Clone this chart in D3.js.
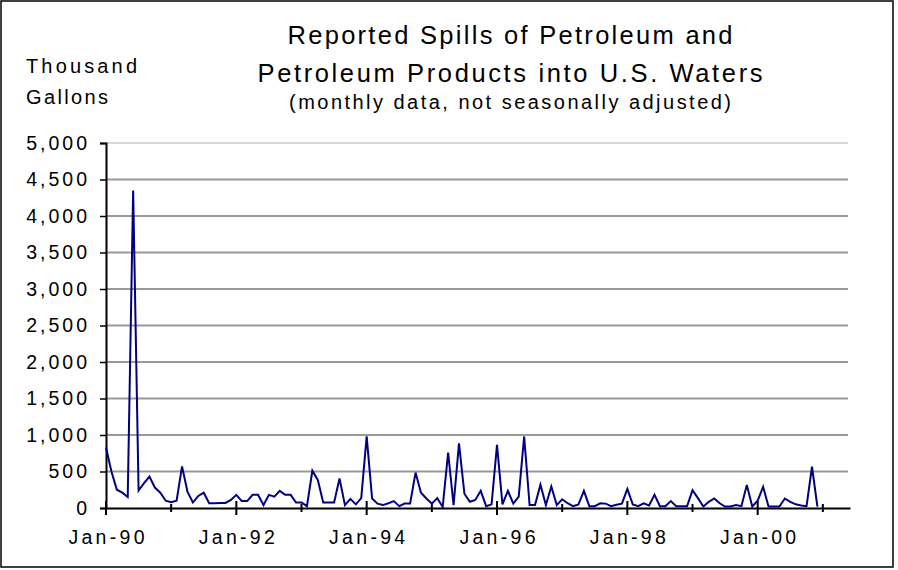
<!DOCTYPE html>
<html>
<head>
<meta charset="utf-8">
<script src="https://cdn.jsdelivr.net/npm/d3@7"></script>
<style>
  body { margin: 0; background: #fff; }
  text { font-family: "Liberation Sans", Arial, sans-serif; fill: #000; }
</style>
</head>
<body>
<svg width="898" height="570"></svg>
<script>
// monthly spills, thousand gallons, Jan-90 .. Dec-00
var spills = [
  830, 500, 250, 210, 150, 4350, 240, 340, 430, 280, 210, 100,
  80, 100, 570, 225, 75, 165, 210, 65, 65, 70, 70, 110,
  180, 95, 95, 180, 180, 40, 180, 155, 235, 180, 180, 75,
  75, 25, 510, 385, 75, 75, 75, 405, 40, 125, 50, 135,
  980, 130, 60, 40, 65, 95, 25, 60, 60, 485, 210, 130,
  60, 135, 15, 760, 40, 885, 195, 85, 110, 235, 25, 50,
  865, 50, 235, 60, 155, 980, 40, 40, 320, 40, 295, 40,
  120, 65, 25, 50, 235, 25, 25, 65, 60, 25, 45, 60,
  260, 50, 25, 65, 35, 180, 25, 25, 95, 25, 25, 25,
  245, 135, 20, 85, 130, 65, 20, 20, 40, 25, 315, 20,
  100, 290, 20, 20, 20, 130, 85, 50, 35, 25, 565, 20
];
var yTicks = [0, 500, 1000, 1500, 2000, 2500, 3000, 3500, 4000, 4500, 5000];
var majorMonths = [0, 24, 48, 72, 96, 120];
var minorMonths = [12, 36, 60, 84, 108, 132];
var xLabels = ["Jan-90", "Jan-92", "Jan-94", "Jan-96", "Jan-98", "Jan-00"];
var titleLines = ["Reported Spills of Petroleum and", "Petroleum Products into U.S. Waters"];
var subTitle = "(monthly data, not seasonally adjusted)";
var unitLines = ["Thousand", "Gallons"];

var svg = d3.select("svg");

var x = d3.scaleLinear().domain([0, 137]).range([106, 850]),
    y = d3.scaleLinear().domain([0, 5000]).range([508, 143]);

// chart frame
svg.append("rect")
    .attr("x", 1).attr("y", 1).attr("width", 892).attr("height", 566)
    .attr("fill", "none").attr("stroke", "#000").attr("stroke-width", 1.5);

// gridlines
svg.append("g").selectAll("line")
  .data(yTicks.filter(function(d) { return d > 0; }))
  .enter().append("line")
    .attr("x1", x(0)).attr("x2", 848)
    .attr("y1", function(d) { return y(d); })
    .attr("y2", function(d) { return y(d); })
    .attr("stroke", function(d) { return d === 5000 ? "#d8d8d8" : "#999"; })
    .attr("stroke-width", 2);

// y axis
var yAxis = svg.append("g")
    .attr("transform", "translate(" + x(0) + ",0)")
    .call(d3.axisLeft(y).tickValues(yTicks).tickFormat(d3.format(",")).tickSize(6).tickPadding(10));
yAxis.select(".domain").attr("stroke", "#000").attr("stroke-width", 2);
yAxis.selectAll(".tick line").attr("stroke", "#000").attr("stroke-width", 1.5);
yAxis.selectAll(".tick text")
    .style("font-size", "19.5px").style("letter-spacing", "3px")
    .attr("font-family", null);

// x axis
var xAxis = svg.append("g")
    .attr("transform", "translate(0," + y(0) + ")")
    .call(d3.axisBottom(x).tickValues(majorMonths).tickFormat(function(d, i) { return xLabels[i]; })
      .tickSize(0).tickPadding(22));
xAxis.select(".domain").attr("stroke", "#000").attr("stroke-width", 2);
xAxis.selectAll(".tick text")
    .style("font-size", "19.5px").style("letter-spacing", "3.3px")
    .attr("dx", "1.6px")
    .attr("font-family", null);

svg.append("g").selectAll("line")
  .data(majorMonths)
  .enter().append("line")
    .attr("x1", function(d) { return x(d); }).attr("x2", function(d) { return x(d); })
    .attr("y1", y(0) - 7).attr("y2", y(0) + 7)
    .attr("stroke", "#000").attr("stroke-width", 2);
svg.append("g").selectAll("line")
  .data(minorMonths)
  .enter().append("line")
    .attr("x1", function(d) { return x(d); }).attr("x2", function(d) { return x(d); })
    .attr("y1", y(0) - 4).attr("y2", y(0) + 4)
    .attr("stroke", "#000").attr("stroke-width", 2);

// series
var line = d3.line()
    .x(function(d, i) { return x(i); })
    .y(function(d) { return y(d); });

svg.append("path")
    .datum(spills)
    .attr("d", line)
    .attr("fill", "none")
    .attr("stroke", "#000080")
    .attr("stroke-width", 2)
    .attr("stroke-linejoin", "miter");

// titles
svg.append("text").attr("x", 510).attr("y", 44).attr("text-anchor", "middle")
    .style("font-size", "25.5px").attr("textLength", 445).attr("lengthAdjust", "spacing")
    .text(titleLines[0]);
svg.append("text").attr("x", 510).attr("y", 82).attr("text-anchor", "middle")
    .style("font-size", "25.5px").attr("textLength", 505).attr("lengthAdjust", "spacing")
    .text(titleLines[1]);
svg.append("text").attr("x", 510).attr("y", 109).attr("text-anchor", "middle")
    .style("font-size", "20px").attr("textLength", 442).attr("lengthAdjust", "spacing")
    .text(subTitle);

svg.append("text").attr("x", 26).attr("y", 73)
    .style("font-size", "20px").attr("textLength", 111).attr("lengthAdjust", "spacing")
    .text(unitLines[0]);
svg.append("text").attr("x", 26).attr("y", 104)
    .style("font-size", "20px").attr("textLength", 82).attr("lengthAdjust", "spacing")
    .text(unitLines[1]);
</script>
</body>
</html>
